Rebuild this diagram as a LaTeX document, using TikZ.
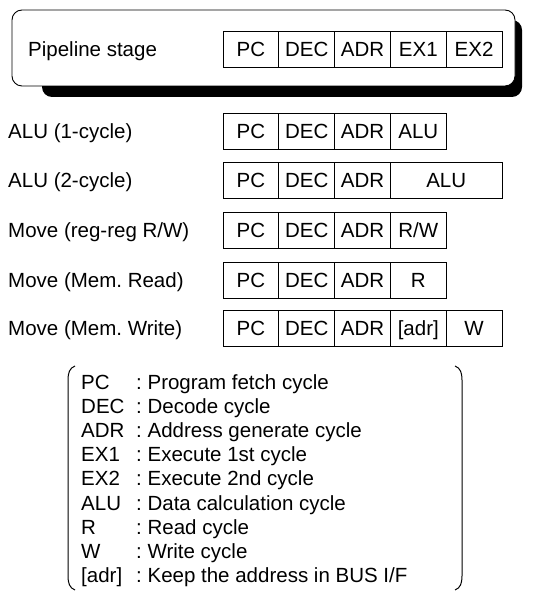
\documentclass[tikz,border=0pt]{standalone}
\usepackage{fontspec}
\setmainfont{Liberation Sans}
\frenchspacing
\begin{document}
\begin{tikzpicture}[x=1pt,y=-1pt,
  every node/.style={font=\fontsize{20.5}{24}\selectfont, inner sep=0pt},
  cell/.style={draw, line width=0.8pt, minimum width=55.8pt, minimum height=36pt, text height=14.7pt, text depth=0pt},
  wcell/.style={cell, minimum width=111.6pt},
  rowlabel/.style={anchor=west, text height=14.7pt, text depth=0pt},
  legtext/.style={anchor=base west},
  bracketline/.style={line width=1pt}]
\useasboundingbox (0,0) rectangle (537,593);
% header box with shadow
\fill[rounded corners=10pt] (42,20) rectangle (522,97);
\node[draw, fill=white, line width=0.9pt, rounded corners=10pt, minimum width=503pt, minimum height=76pt] (stagebox) at (263.5,48) {};
\node[rowlabel] (lst) at (28,49) {Pipeline stage};
\node[cell] (s1) at (250.9,49) {PC};
\node[cell] (s2) at (306.7,49) {DEC};
\node[cell] (s3) at (362.5,49) {ADR};
\node[cell] (s4) at (418.3,49) {EX1};
\node[cell] (s5) at (474.1,49) {EX2};
% ALU (1-cycle)
\node[rowlabel] (la) at (8,131) {ALU (1-cycle)};
\node[cell] (a1) at (250.9,131) {PC};
\node[cell] (a2) at (306.7,131) {DEC};
\node[cell] (a3) at (362.5,131) {ADR};
\node[cell] (a4) at (418.3,131) {ALU};
% ALU (2-cycle)
\node[rowlabel] (lb) at (8,180) {ALU (2-cycle)};
\node[cell] (b1) at (250.9,180) {PC};
\node[cell] (b2) at (306.7,180) {DEC};
\node[cell] (b3) at (362.5,180) {ADR};
\node[wcell] (b4) at (446.2,180) {ALU};
% Move reg-reg
\node[rowlabel] (lc) at (8,230) {Move (reg-reg R/W)};
\node[cell] (c1) at (250.9,230) {PC};
\node[cell] (c2) at (306.7,230) {DEC};
\node[cell] (c3) at (362.5,230) {ADR};
\node[cell] (c4) at (418.3,230) {R/W};
% Move Mem Read
\node[rowlabel] (ld) at (8,280) {Move (Mem. Read)};
\node[cell] (d1) at (250.9,280) {PC};
\node[cell] (d2) at (306.7,280) {DEC};
\node[cell] (d3) at (362.5,280) {ADR};
\node[cell] (d4) at (418.3,280) {R};
% Move Mem Write
\node[rowlabel] (le) at (8,328) {Move (Mem. Write)};
\node[cell] (e1) at (250.9,328) {PC};
\node[cell] (e2) at (306.7,328) {DEC};
\node[cell] (e3) at (362.5,328) {ADR};
\node[cell] (e4) at (418.3,328) {[adr]};
\node[cell] (e5) at (474.1,328) {W};
% legend brackets
\draw[bracketline] (75,366) .. controls (69.5,368) and (68,373) .. (68,380) -- (68,576) .. controls (68,583) and (69.5,588) .. (75,590);
\draw[bracketline] (455,366) .. controls (460.5,368) and (462,373) .. (462,380) -- (462,576) .. controls (462,583) and (460.5,588) .. (455,590);
% legend text
\node[legtext] (key0) at (81,389.5) {PC};
\node[legtext] (def0) at (136,389.5) {: Program fetch cycle};
\node[legtext] (key1) at (81,413.6) {DEC};
\node[legtext] (def1) at (136,413.6) {: Decode cycle};
\node[legtext] (key2) at (81,437.7) {ADR};
\node[legtext] (def2) at (136,437.7) {: Address generate cycle};
\node[legtext] (key3) at (81,461.8) {EX1};
\node[legtext] (def3) at (136,461.8) {: Execute 1st cycle};
\node[legtext] (key4) at (81,485.9) {EX2};
\node[legtext] (def4) at (136,485.9) {: Execute 2nd cycle};
\node[legtext] (key5) at (81,510.0) {ALU};
\node[legtext] (def5) at (136,510.0) {: Data calculation cycle};
\node[legtext] (key6) at (81,534.1) {R};
\node[legtext] (def6) at (136,534.1) {: Read cycle};
\node[legtext] (key7) at (81,558.2) {W};
\node[legtext] (def7) at (136,558.2) {: Write cycle};
\node[legtext] (key8) at (81,582.3) {[adr]};
\node[legtext] (def8) at (136,582.3) {: Keep the address in BUS I/F};
\end{tikzpicture}
\end{document}
